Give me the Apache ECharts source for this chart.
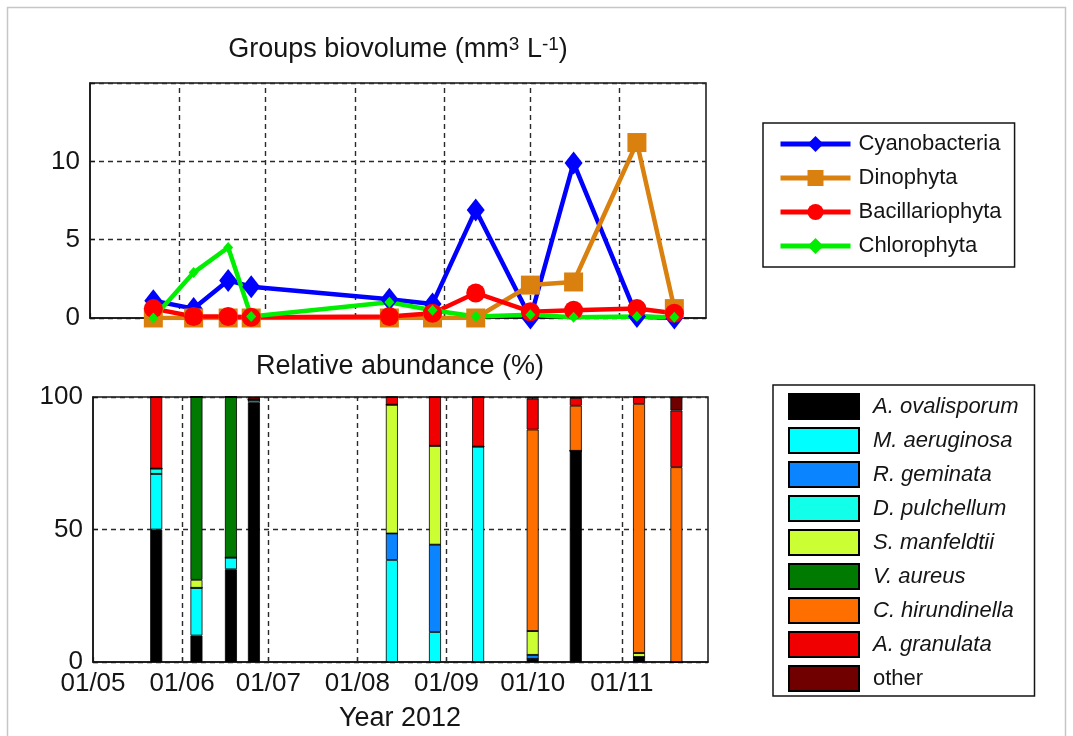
<!DOCTYPE html>
<html>
<head>
<meta charset="utf-8">
<script src="https://cdn.jsdelivr.net/npm/echarts@6/dist/echarts.min.js"></script>
<style>
  html, body { margin: 0; padding: 0; background: #ffffff; }
  #chart { width: 1073px; height: 736px; }
</style>
</head>
<body>
<div id="chart"></div>
<script>
// ---- sampling dates (2012) ----
const sampleDates = ['2012-05-23', '2012-06-06', '2012-06-18', '2012-06-26', '2012-08-13',
                     '2012-08-28', '2012-09-12', '2012-10-01', '2012-10-16', '2012-11-07', '2012-11-20'];
const monthTicks = ['2012-05-01', '2012-06-01', '2012-07-01', '2012-08-01',
                    '2012-09-01', '2012-10-01', '2012-11-01'];
const axisStart = '2012-05-01';
const axisEnd = '2012-12-01';

// ---- groups biovolume (mm3 L-1) ----
const groupNames = ['Cyanobacteria', 'Dinophyta', 'Bacillariophyta', 'Chlorophyta'];
const cyanobacteria   = [1.1, 0.6, 2.4, 2.0, 1.2, 0.9, 6.9, 0.0, 9.9, 0.1, 0.0];
const dinophyta       = [0.0, 0.0, 0.0, 0.0, 0.0, 0.0, 0.0, 2.1, 2.3, 11.2, 0.6];
const bacillariophyta = [0.6, 0.1, 0.1, 0.05, 0.1, 0.3, 1.6, 0.4, 0.5, 0.6, 0.3];
const chlorophyta     = [0.0, 2.9, 4.5, 0.1, 1.0, 0.5, 0.1, 0.2, 0.05, 0.1, 0.05];
const biovolumeTicks = [0, 5, 10];

// ---- relative abundance (%) ----
const speciesNames = ['A. ovalisporum', 'M. aeruginosa', 'R. geminata', 'D. pulchellum',
                      'S. manfeldtii', 'V. aureus', 'C. hirundinella', 'A. granulata', 'other'];
const ovalisporum  = [50, 10, 35, 98, 0, 0, 0, 1.2, 79.7, 1.9, 0];
const aeruginosa   = [21, 18, 4.4, 1, 38.5, 11.3, 81.3, 0, 0, 0, 0];
const geminata     = [0, 0, 0, 0, 10, 33, 0, 1.5, 0, 0, 0];
const pulchellum   = [2, 0, 0, 0, 0, 0, 0, 0, 0, 0, 0];
const manfeldtii   = [0, 3, 0, 0, 48.6, 37.3, 0, 9, 0, 1.5, 0];
const aureus       = [0, 69, 60.6, 0, 0, 0, 0, 0, 0, 0, 0];
const hirundinella = [0, 0, 0, 0, 0, 0, 0, 76, 17, 94, 73.5];
const granulata    = [27, 0, 0, 0, 2.9, 18.4, 18.7, 11.7, 2.9, 2.6, 21.4];
const otherTaxa    = [0, 0, 0, 1, 0, 0, 0, 0.6, 0.4, 0, 5.1];
const abundanceTicks = [0, 50, 100];

// ---- styling ----
const FONT = "'Liberation Sans', Arial, Helvetica, sans-serif";
const INK = '#151515';
const groupColors = ['#0000ff', '#d9800f', '#ff0000', '#00ee00'];
const groupSymbols = ['diamond', 'rect', 'circle', 'diamond'];
const groupSymbolSizes = [[18, 23], 19, 19, [10, 11]];
const speciesColors = ['#000000', '#00ffff', '#0a84ff', '#12ffea', '#ccff33',
                       '#007a00', '#ff6f00', '#f00000', '#700000'];

function toTime(s) {
  const p = s.split('-').map(Number);
  return new Date(p[0], p[1] - 1, p[2]).getTime();
}
function pad2(n) { return (n < 10 ? '0' : '') + n; }

const sampleTs = sampleDates.map(toTime);
const monthTs = monthTicks.map(toTime);
const gridMonthTs = monthTs.slice(1);

const groupValues = [cyanobacteria, dinophyta, bacillariophyta, chlorophyta];
const speciesValues = [ovalisporum, aeruginosa, geminata, pulchellum, manfeldtii,
                       aureus, hirundinella, granulata, otherTaxa];

const dashLine = { color: '#2a2a2a', width: 1.4, type: [5, 4] };
const monthGridMark = {
  z: 1,
  silent: true,
  symbol: ['none', 'none'],
  label: { show: false },
  lineStyle: dashLine,
  emphasis: { disabled: true },
  data: gridMonthTs.map(t => ({ xAxis: t }))
};

function dateAxis(gridIndex, showLabels) {
  return {
    type: 'value',
    gridIndex: gridIndex,
    min: toTime(axisStart),
    max: toTime(axisEnd),
    axisLine: { show: true, onZero: false, lineStyle: { color: INK, width: 1.5 } },
    axisTick: { show: true, inside: true, length: 5, customValues: monthTs,
                lineStyle: { color: INK, width: 1.2 } },
    axisLabel: {
      show: showLabels, customValues: monthTs, margin: 9,
      fontSize: 26, color: INK, fontFamily: FONT,
      formatter: v => { const d = new Date(v); return pad2(d.getDate()) + '/' + pad2(d.getMonth() + 1); }
    },
    splitLine: { show: false }
  };
}

function valueAxis(gridIndex, max, interval, labels) {
  return {
    type: 'value',
    gridIndex: gridIndex,
    min: 0, max: max, interval: interval,
    axisLine: { show: true, lineStyle: { color: INK, width: 1.5 } },
    axisTick: { show: true, inside: true, length: 5, lineStyle: { color: INK, width: 1.2 } },
    axisLabel: { customValues: labels, margin: 10, fontSize: 26, color: INK, fontFamily: FONT },
    splitLine: { show: true, lineStyle: dashLine }
  };
}

const lineSeries = groupNames.map((name, i) => ({
  name: name,
  type: 'line',
  xAxisIndex: 0, yAxisIndex: 0,
  data: sampleTs.map((t, k) => [t, groupValues[i][k]]),
  symbol: groupSymbols[i],
  symbolSize: groupSymbolSizes[i],
  showSymbol: true,
  lineStyle: { color: groupColors[i], width: 4.5 },
  itemStyle: { color: groupColors[i] },
  emphasis: { disabled: true },
  markLine: i === 0 ? monthGridMark : undefined
}));

// value first, date second: the stack is then taken on the percentage dimension
const barSeries = speciesNames.map((name, i) => ({
  name: name,
  type: 'bar',
  xAxisIndex: 1, yAxisIndex: 1,
  stack: 'abundance',
  barWidth: 12,
  encode: { x: 1, y: 0 },
  data: sampleTs.map((t, k) => [speciesValues[i][k], t]),
  itemStyle: { color: speciesColors[i], borderColor: '#000', borderWidth: 0.8 },
  emphasis: { disabled: true },
  markLine: i === 0 ? monthGridMark : undefined
}));

const chart = echarts.init(document.getElementById('chart'), null, { renderer: 'canvas' });
chart.setOption({
  animation: false,
  backgroundColor: '#ffffff',
  textStyle: { fontFamily: FONT, color: INK },
  grid: [
    { left: 90, top: 83, width: 616, height: 235, show: true, borderColor: INK, borderWidth: 1.5 },
    { left: 93, top: 397, width: 615, height: 265, show: true, borderColor: INK, borderWidth: 1.5 }
  ],
  xAxis: [dateAxis(0, false), dateAxis(1, true)],
  yAxis: [valueAxis(0, 15, 5, biovolumeTicks), valueAxis(1, 100, 50, abundanceTicks)],
  legend: [
    {
      data: groupNames,
      orient: 'vertical',
      left: 763, top: 123,
      padding: [10, 13, 10, 15],
      itemWidth: 70, itemHeight: 20, itemGap: 12,
      borderColor: INK, borderWidth: 1.5,
      selectedMode: false,
      lineStyle: { width: 5 },
      textStyle: { fontSize: 22, color: INK, fontFamily: FONT, padding: [0, 0, 0, 3] }
    },
    {
      data: speciesNames,
      orient: 'vertical',
      left: 773, top: 385,
      padding: [8, 16, 4, 15],
      itemWidth: 70, itemHeight: 25, itemGap: 7,
      icon: 'rect',
      borderColor: INK, borderWidth: 1.5,
      selectedMode: false,
      formatter: name => name === 'other' ? name : '{i|' + name + '}',
      textStyle: {
        fontSize: 22, color: INK, fontFamily: FONT, padding: [0, 0, 0, 9],
        rich: { i: { fontStyle: 'italic', fontSize: 22, color: INK, fontFamily: FONT } }
      }
    }
  ],
  graphic: [
    {
      type: 'rect', silent: true, z: -10,
      shape: { x: 7.5, y: 7.5, width: 1058, height: 740 },
      style: { fill: 'none', stroke: '#c6c6c6', lineWidth: 1.5 }
    },
    {
      type: 'text', x: 398, y: 50, silent: true,
      style: {
        text: 'Groups biovolume (mm{s|3} L{s|-1})',
        fontSize: 27, fontFamily: FONT, fill: INK, align: 'center', verticalAlign: 'middle',
        rich: { s: { fontSize: 19, fontFamily: FONT, fill: INK, verticalAlign: 'top', lineHeight: 30 } }
      }
    },
    {
      type: 'text', x: 400, y: 367, silent: true,
      style: { text: 'Relative abundance (%)', fontSize: 27, fontFamily: FONT, fill: INK,
               align: 'center', verticalAlign: 'middle' }
    },
    {
      type: 'text', x: 400, y: 719, silent: true,
      style: { text: 'Year 2012', fontSize: 27, fontFamily: FONT, fill: INK,
               align: 'center', verticalAlign: 'middle' }
    }
  ],
  series: lineSeries.concat(barSeries)
});
</script>
</body>
</html>
